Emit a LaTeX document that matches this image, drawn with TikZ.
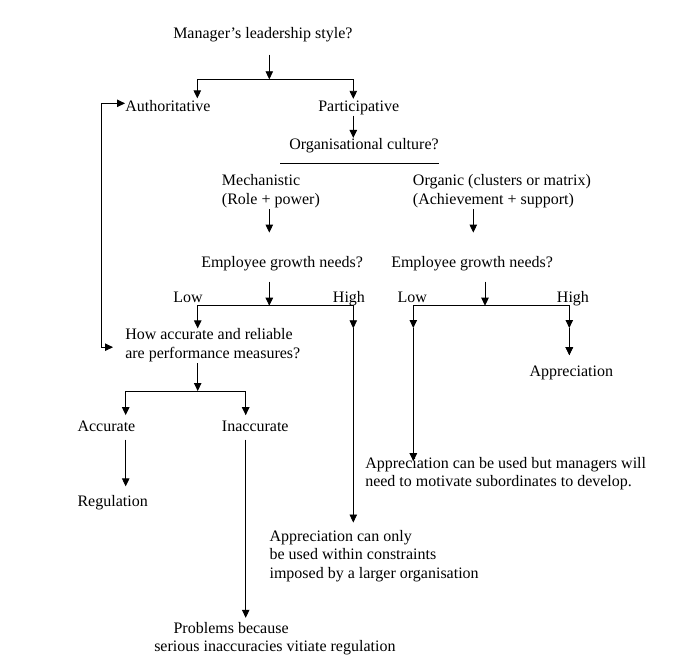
\documentclass[tikz,border=0pt]{standalone}
\usepackage{fontspec}
\setmainfont{Liberation Serif}
\usetikzlibrary{arrows.meta,positioning,calc}
\tikzset{
	>={Triangle[length=6pt,width=5.6pt]}, % filled arrow heads
	every node/.style={inner sep=0pt, font=\fontsize{12}{13.9}\selectfont},
	txt/.style={anchor=base west, align=left}, % text placed by its last baseline
	flow/.style={->, line width=0.65pt},
}

\begin{document}
\begin{tikzpicture}[x=0.75pt, y=-0.75pt]
	\useasboundingbox (0,0) rectangle (685,670);

	\node[txt] (MGR) at (173,39) {Manager’s leadership style?};
	\node[txt] (AUTH) at (125,112) {Authoritative};
	\node[txt] (PART) at (318,112) {Participative};
	\node[txt] (ORG) at (289,149.3) {Organisational culture?};
	\node[txt] (MECH) at (221.7,204.3) {Mechanistic\\(Role + power)};
	\node[txt] (ORGANIC) at (412.7,204.3) {Organic (clusters or matrix)\\(Achievement + support)};
	\node[txt] (EGN_L) at (201,267.3) {Employee growth needs?};
	\node[txt] (EGN_R) at (391,267.3) {Employee growth needs?};
	\node[txt] (LOW_L) at (173,302.7) {Low};
	\node[txt] (HIGH_L) at (332.7,302.7) {High};
	\node[txt] (LOW_R) at (397.3,302.7) {Low};
	\node[txt] (HIGH_R) at (556.7,302.7) {High};
	\node[txt] (MEAS) at (125,358.3) {How accurate and reliable\\are performance measures?};
	\node[txt] (APPR) at (529.3,376.7) {Appreciation};
	\node[txt] (ACC) at (77.3,431.7) {Accurate};
	\node[txt] (INACC) at (221.7,431.7) {Inaccurate};
	\node[txt] (APPR_DEV) at (365,486.7) {Appreciation can be used but managers will\\need to motivate subordinates to develop.};
	\node[txt] (REG) at (77.3,506) {Regulation};
	\node[txt] (APPR_ONLY) at (269.3,578.3) {Appreciation can only\\be used within constraints\\imposed by a larger organisation};
	\node[txt] (PROB) at (154,651.7) {\hspace*{14.5pt}Problems because\\serious inaccuracies vitiate regulation};

	% split points of the branches
	\coordinate (SPLIT_TOP) at (269.3,79.3);
	\coordinate (SPLIT_L) at (269.3,305.7);
	\coordinate (SPLIT_R) at (485,305.7);
	\coordinate (SPLIT_MEAS) at (197.7,391);
	\coordinate (HIGH_L_TIP) at (353.3,328.3);
	\coordinate (LOW_R_TIP) at (413.3,328);
	\coordinate (HIGH_R_TIP) at (569.3,328);
	\coordinate (HIGH_R_TIP2) at (569.3,355);

	\draw[flow, shorten <=9pt] (MGR.south -| SPLIT_TOP) -- (SPLIT_TOP);
	\draw[flow, shorten >=1.7pt] (SPLIT_TOP) -| (AUTH.north -| 197.3,0);
	\draw[flow, shorten >=1.7pt] (SPLIT_TOP) -| (PART.north -| 353.3,0);
	\draw[flow] (PART.south -| 353.3,0) -- (ORG.north -| 353.3,0);
	\draw[line width=0.65pt] ($(ORG.south west)+(-9,10.5)$) -- ($(ORG.south east)+(0,10.5)$);

	\draw[flow, shorten <=1pt, shorten >=17.5pt] (MECH.south -| SPLIT_L) -- (EGN_L.north -| SPLIT_L);
	\draw[flow, shorten <=1pt, shorten >=17.5pt] (ORGANIC.south -| 473.3,0) -- (EGN_R.north -| 473.3,0);

	% mechanistic branch
	\draw[flow, shorten <=8pt] (EGN_L.south -| SPLIT_L) -- (SPLIT_L);
	\draw[flow] (SPLIT_L) -| (MEAS.north -| SPLIT_MEAS);
	\draw[flow] (SPLIT_L) -| (HIGH_L_TIP);
	\draw[flow, shorten >=5.5pt] (HIGH_L_TIP) -- (APPR_ONLY.north -| HIGH_L_TIP);

	% organic branch
	\draw[flow, shorten <=8pt] (EGN_R.south -| SPLIT_R) -- (SPLIT_R);
	\draw[flow] (SPLIT_R) -| (LOW_R_TIP);
	\draw[flow, shorten >=-3.3pt] (LOW_R_TIP) -- (APPR_DEV.north -| LOW_R_TIP);
	\draw[flow] (SPLIT_R) -| (HIGH_R_TIP);
	\draw[flow] (HIGH_R_TIP) -- (HIGH_R_TIP2);
	\draw[flow, shorten >=8pt] (HIGH_R_TIP2) -- (APPR.north -| HIGH_R_TIP2);

	% performance measures
	\draw[flow, shorten <=1pt] (MEAS.south -| SPLIT_MEAS) -- (SPLIT_MEAS);
	\draw[flow, shorten >=4.3pt] (SPLIT_MEAS) -| (ACC.north -| 125.7,0);
	\draw[flow, shorten >=4.3pt] (SPLIT_MEAS) -| (INACC.north -| 245.7,0);
	\draw[flow, shorten <=5.7pt, shorten >=6.2pt] (ACC.south -| 125.7,0) -- (REG.north -| 125.7,0);
	\draw[flow, shorten <=5.7pt, shorten >=3pt] (INACC.south -| 245.7,0) -- (PROB.north -| 245.7,0);

	% back to the leadership style
	\draw[<->, line width=0.65pt, shorten <=9pt] ([yshift=-1.5pt]MEAS.west) -- ++(-24,0) |- ([yshift=2.4pt]AUTH.west);
\end{tikzpicture}
\end{document}
